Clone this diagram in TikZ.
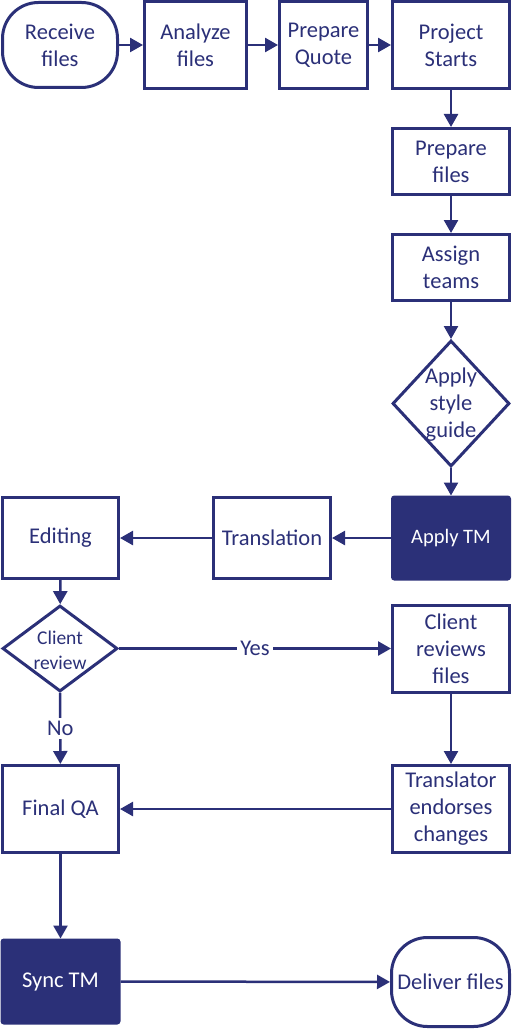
\documentclass[tikz,border=0pt]{standalone}
\usepackage{fontspec}
\setmainfont{Carlito}
\usetikzlibrary{arrows.meta,shapes.geometric}
\definecolor{navy}{RGB}{43,48,120}
\tikzset{
  base/.style={draw=navy, line width=3pt, fill=white, text=navy, align=center, inner sep=0pt,
    font=\fontsize{22.5}{27}\selectfont},
  box/.style={base, minimum width=117pt},
  darkbox/.style={base, fill=navy, text=white, rounded corners=2pt, minimum width=117pt,
    font=\fontsize{20.5}{25}\selectfont},
  pill/.style={base, rounded corners=36pt, minimum width=115pt},
  decision/.style={draw=navy, line width=3pt, fill=white, shape=diamond, inner sep=0pt},
  txt/.style={text=navy, align=center, font=\fontsize{22.5}{27}\selectfont},
  conn/.style={draw=navy, line width=2.5pt, -{Triangle[length=13pt,width=14pt]}},
  lbl/.style={fill=white, text=navy, inner sep=3pt, font=\fontsize{22.5}{27}\selectfont},
}
\begin{document}
\begin{tikzpicture}[x=1pt,y=-1pt]
\useasboundingbox (0,0) rectangle (511,1030);
% top row
\node[pill, minimum height=85pt] (receive) at (60,45) {Receive\\files};
\node[box, minimum width=102pt, minimum height=87pt] (analyze) at (195.5,45) {Analyze\\files};
\node[box, minimum width=88pt, minimum height=87pt] (quote) at (323.5,45) {Prepare\\Quote};
\node[box, minimum height=87pt] (starts) at (451,45) {Project\\Starts};
% right column
\node[box, minimum height=66pt] (prep) at (451,161.5) {Prepare\\files};
\node[box, minimum height=66pt] (assign) at (451,267.5) {Assign\\teams};
\node[decision, minimum width=117pt, minimum height=126pt] (style) at (451,403.5) {};
\node[txt] (styletxt) at (451,405) {Apply\\style\\guide};
\node[darkbox, minimum height=82pt] (applytm) at (451,538) {Apply TM};
% middle row
\node[box, minimum height=81pt] (transl) at (272,538) {Translation};
\node[box, minimum width=116pt, minimum height=81pt] (edit) at (60.5,538) {Editing};
% review
\node[decision, minimum width=115pt, minimum height=86pt] (review) at (60,648.5) {};
\node[txt, font=\fontsize{19.5}{25}\selectfont] (reviewtxt) at (60,650) {Client\\review};
\node[box, minimum height=87pt] (creview) at (451,649) {Client\\reviews\\files};
\node[box, minimum height=87pt] (endorse) at (451,809) {Translator\\endorses\\changes};
\node[box, minimum width=116pt, minimum height=87pt] (qa) at (60.5,809) {Final QA};
\node[darkbox, minimum width=117pt, minimum height=83pt, font=\fontsize{22.5}{27}\selectfont] (sync) at (60.5,981.5) {Sync TM};
\node[pill, minimum width=118pt, minimum height=89pt] (deliver) at (450.5,982) {Deliver files};
% connectors
\draw[conn] (receive) -- (analyze);
\draw[conn] (analyze) -- (quote);
\draw[conn] (quote) -- (starts);
\draw[conn] (starts) -- (prep);
\draw[conn] (prep) -- (assign);
\draw[conn] (assign) -- (style);
\draw[conn] (style) -- (applytm);
\draw[conn] (applytm) -- (transl);
\draw[conn] (transl) -- (edit);
\draw[conn] (edit) -- (review);
\draw[conn] (review) -- node[lbl] (yes) {Yes} (creview.west |- review);
\draw[conn] (review) -- node[lbl] (no) {No} (qa);
\draw[conn] (creview) -- (endorse);
\draw[conn] (endorse) -- (qa);
\draw[conn] (qa) -- (sync);
\draw[conn] (sync) -- (deliver);
\end{tikzpicture}
\end{document}
